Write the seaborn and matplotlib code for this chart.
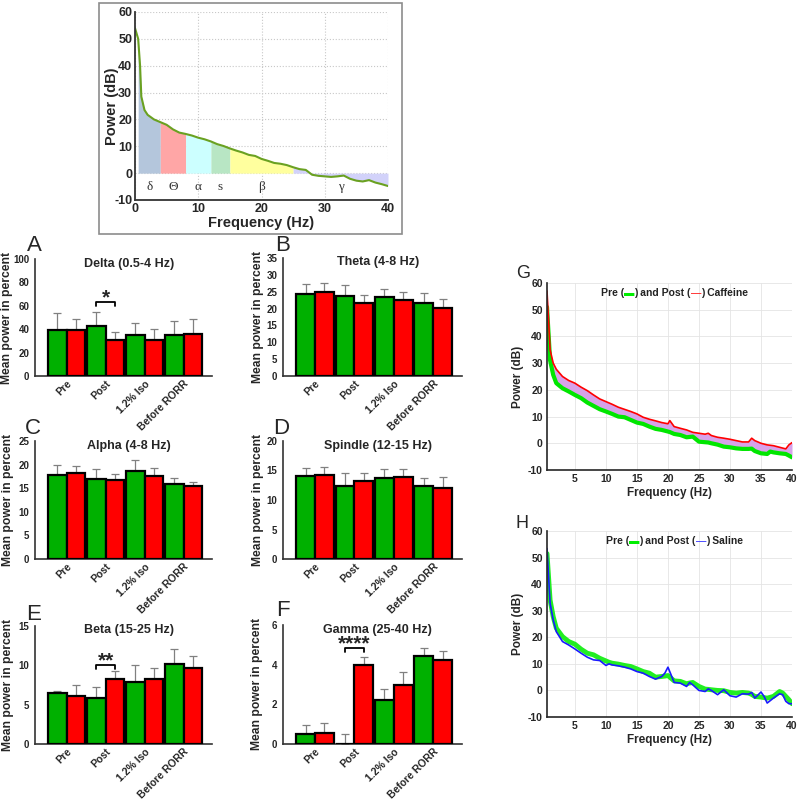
import numpy as np
import pandas as pd
import matplotlib
matplotlib.use("Agg")
import matplotlib.pyplot as plt
import seaborn as sns
from matplotlib.patches import Rectangle
from matplotlib.offsetbox import TextArea, HPacker, AnchoredOffsetbox

sns.set_style("white")
plt.rcParams['font.family'] = ['Liberation Sans', 'DejaVu Sans']
plt.rcParams['axes.unicode_minus'] = False

# ---------------- data ----------------
# example power spectrum with bands (top panel)
psd_freq = [0, 0.5, 0.8, 1, 1.5, 2,
            3, 4, 5, 6, 7, 8, 9, 10, 11, 12,
            13, 14, 15, 16, 17, 18, 19, 20, 21, 22,
            23, 24, 25, 26, 27, 28, 29, 30, 31, 32,
            33, 34, 35, 36, 37, 38, 39, 40]
psd_power = [54, 50, 40, 28.5, 23.5, 21.7,
             20, 19, 18, 16.3, 15.1, 14.6, 14, 13.2, 12.6, 11.8,
             10.8, 10.1, 9.2, 8.4, 7.7, 6.8, 6.4, 5.3, 4.6, 3.8,
             3.5, 3.0, 2.2, 1.5, 1.2, -0.6, -1.0, -1.2, -1.4, -1.2,
             -0.9, -2.1, -2.8, -3.1, -2.6, -3.5, -4.1, -4.8]
band_symbols = ['δ', 'Θ', 'α', 's', 'β', 'γ']
band_lo = [0.5, 4, 8, 12, 15, 25]
band_hi = [4, 8, 12, 15, 25, 40]

# bar panels
conditions = ['Pre', 'Post', '1.2% Iso', 'Before RORR']
groups = ['Saline', 'Caffeine']
band_titles = ['Delta (0.5-4 Hz)', 'Theta (4-8 Hz)', 'Alpha (4-8 Hz)',
               'Spindle (12-15 Hz)', 'Beta (15-25 Hz)', 'Gamma (25-40 Hz)']
green_mean = [[39, 43, 35, 35], [24.2, 23.6, 23.3, 21.6], [17.8, 17.0, 18.6, 15.9],
              [14.0, 12.4, 13.8, 12.4], [6.5, 5.9, 7.85, 10.2], [0.5, 0.0, 2.24, 4.44]]
green_err = [[15, 12, 10, 12], [3.0, 3.4, 2.6, 3.0], [2.1, 2.0, 2.4, 1.2],
             [1.4, 2.15, 1.5, 1.3], [0.3, 1.3, 2.25, 1.9], [0.48, 0.48, 0.55, 0.42]]
red_mean = [[39, 31, 31, 35.5], [24.8, 21.7, 22.4, 20.1], [18.3, 16.8, 17.6, 15.4],
            [14.3, 13.25, 13.9, 12.1], [6.15, 8.3, 8.2, 9.6], [0.56, 4.0, 3.0, 4.25]]
red_err = [[10, 7, 9, 13], [2.8, 2.3, 2.6, 2.7], [1.5, 1.3, 1.7, 0.9],
           [1.3, 1.3, 1.3, 1.8], [1.4, 1.0, 1.5, 1.6], [0.5, 0.38, 0.61, 0.44]]
y_max = [100, 35, 25, 20, 15, 6]
y_step = [20, 5, 5, 5, 5, 2]
sig_label = ['*', None, None, None, '**', '****']
sig_height = [63.5, None, None, None, 10.0, 4.84]

# caffeine spectra (G)
caf_freq = [0.5, 1, 1.5, 2, 3, 4, 5, 6, 7, 8,
            9, 10, 11, 12, 13, 14, 15, 16, 17, 18,
            19, 20, 20.3, 21, 22, 23, 24, 25, 26, 26.5,
            27, 28, 29, 30, 31, 32, 33, 33.5, 34, 35,
            36, 36.5, 37, 38, 39, 39.5, 40]
caf_pre = [51, 31, 25.6, 22.5, 20.6, 19.4, 18.1, 16.9, 15.25, 14,
           12.75, 11.9, 11, 10, 9.75, 8.75, 7.75, 7.25, 6.25, 5.4,
           5, 4.4, 4.2, 3.5, 3.1, 2.25, 2.5, 0.6, 0.4, 0.3,
           0, -0.5, -1.25, -1.5, -1.9, -2.1, -2.1, -2.0, -2.9, -3.75,
           -4, -3.1, -3.4, -3.75, -4, -4.6, -5.25]
caf_post = [57, 35, 30, 27.7, 25, 23.5, 22.5, 21, 19.7, 18.1,
            16.6, 15.6, 14.6, 13.5, 12.7, 11.9, 11, 9.75, 9, 8.4,
            7.75, 7.3, 8.5, 6.25, 5.6, 5, 4.1, 3.75, 3.4, 3.75,
            2.9, 2.25, 1.9, 1.5, 1.0, 0.5, 0.5, 1.9, 1.0, 0,
            -0.6, -0.75, -0.9, -1.5, -2.1, -0.6, 0.25]

# saline spectra (H)
sal_freq = [0.5, 1, 1.5, 2, 3, 4, 5, 6, 7, 8,
            9, 10, 10.5, 11, 12, 13, 14, 15, 16, 17,
            18, 19, 19.5, 20, 20.5, 21, 22, 23, 23.5, 24,
            25, 26, 26.5, 27, 28, 29, 30, 31, 32, 33,
            33.5, 34, 35, 35.5, 36, 37, 38, 38.5, 39, 39.5,
            40]
sal_pre = [51.5, 34, 27.75, 23.4, 20.25, 18.4, 17.4, 15.5, 14, 13.4,
           12.1, 11.1, 10.6, 10.25, 9.9, 9.4, 9, 8.1, 7.1, 6.5,
           5, 5.25, 5.4, 5.6, 4.6, 3.6, 3.4, 2.5, 2.8, 3,
           1.5, 0.5, 0.4, 0.25, 0, -0.1, -0.75, -1, -0.75, -1,
           -1.5, -2.25, -2.5, -2.7, -2.9, -2.25, -0.4, -1.0, -2.25, -3.5,
           -5]
sal_post = [53.4, 32.75, 26.5, 22.1, 18.4, 17.1, 15.6, 14, 12.5, 11.5,
            11.25, 9.4, 10, 9.6, 9.25, 8.75, 8.1, 7.1, 6.5, 5.25,
            4.25, 5.25, 6.5, 8.75, 5.9, 3, 2.75, 1.5, 3, 2.1,
            0, -0.4, 0.6, 0, -1.6, 0.25, -2, -2.5, -1.25, -1.4,
            -0.75, -2.9, -0.6, -2.25, -4.75, -2.9, -1.25, -1.6, -4.1, -5,
            -5]

W, H = 800, 801
fig = plt.figure(figsize=(8, 8.01), dpi=100)


def px_axes(left, top, right, bottom):
    return fig.add_axes([left / W, 1 - bottom / H, (right - left) / W, (bottom - top) / H])


bold = dict(fontweight='bold')

# ---------------- top spectrum panel ----------------
fig.patches.append(Rectangle((99 / W, 1 - 234 / H), 303 / W, 231 / H, transform=fig.transFigure,
                             fill=False, edgecolor='#8c8c8c', lw=1.2))
ax0 = px_axes(135, 12, 388, 200)
f = np.array(psd_freq)
p = np.array(psd_power)
band_colors = ['#b4c6dc', '#ffa6a6', '#ccffff', '#b8e6c4', '#ffff9e', '#d2d2fa']
for lo, hi, col, sym in zip(band_lo, band_hi, band_colors, band_symbols):
    m = (f >= lo) & (f <= hi)
    ax0.fill_between(f[m], 0, p[m], color=col, lw=0)
    ax0.text((lo + hi) / 2, -5, sym, ha='center', va='center', fontsize=9.5,
             family=['Liberation Serif', 'DejaVu Serif'], color='#333333')
sns.lineplot(x=psd_freq, y=psd_power, ax=ax0, color='#6aa121', lw=1.5)
ax0.set_xlim(0, 40)
ax0.set_ylim(-10, 60)
ax0.set_xticks(range(0, 41, 10))
ax0.set_yticks(range(-10, 61, 10))
ax0.grid(True, ls=':', color='#c8c8c8', lw=0.8)
for s in ['top', 'right']:
    ax0.spines[s].set_visible(False)
for s in ['left', 'bottom']:
    ax0.spines[s].set_color('#333333')
    ax0.spines[s].set_linewidth(1.3)
ax0.tick_params(direction='in', length=3, labelsize=9, pad=2)
for t in ax0.get_xticklabels() + ax0.get_yticklabels():
    t.set_fontweight('bold')
ax0.set_xlabel('Frequency (Hz)', fontsize=10.5, labelpad=1, **bold)
ax0.set_ylabel('Power (dB)', fontsize=10.5, **bold)
ax0.yaxis.set_label_coords((112 - 135) / 253, 0.5)
ax0.yaxis.label.set_verticalalignment('center')

# ---------------- bar panels ----------------
bar_boxes = [(35, 259, 212, 376), (283, 258, 462, 376),
             (35, 441, 212, 559), (283, 441, 462, 559),
             (35, 626, 212, 744), (283, 625, 462, 744)]
ylabel_x = [7, 258, 8, 258, 8, 257]
letters = ['A', 'B', 'C', 'D', 'E', 'F']
letter_pos = [(34, 245), (283, 245), (33, 428), (281, 428), (34, 614), (283, 611)]
pal = {'Saline': '#00b000', 'Caffeine': '#ff0000'}

for i, box in enumerate(bar_boxes):
    ax = px_axes(*box)
    df = pd.DataFrame({
        'condition': conditions * 2,
        'group': ['Saline'] * 4 + ['Caffeine'] * 4,
        'power': green_mean[i] + red_mean[i],
    })
    sns.barplot(data=df, x='condition', y='power', hue='group', hue_order=groups,
                palette=pal, errorbar=None, width=0.95, edgecolor='black',
                linewidth=1.6, saturation=1, ax=ax, legend=False, zorder=3)
    for cont, errs, means in zip(ax.containers, [green_err[i], red_err[i]],
                                 [green_mean[i], red_mean[i]]):
        xs = [b.get_x() + b.get_width() / 2 for b in cont]
        ax.errorbar(xs, means, yerr=[np.zeros(len(errs)), errs], fmt='none',
                    ecolor='#808080', elinewidth=0.9, capsize=3, capthick=0.9, zorder=2)
    if sig_label[i]:
        gb = ax.containers[0][1]
        rb = ax.containers[1][1]
        x1 = gb.get_x() + gb.get_width() / 2
        x2 = rb.get_x() + rb.get_width() / 2
        h = sig_height[i]
        dh = y_max[i] * 0.035
        ax.plot([x1, x1, x2, x2], [h - dh, h, h, h - dh], color='black', lw=1.3, zorder=4)
        ax.annotate(sig_label[i], xy=((x1 + x2) / 2, h), xytext=(0, -1),
                    textcoords='offset points', ha='center', va='baseline',
                    fontsize=15, fontweight='bold')
    ax.set_xlim(-0.81, 3.73)
    ax.set_ylim(0, y_max[i])
    ax.set_yticks(np.arange(0, y_max[i] + 0.1, y_step[i]))
    ax.set_xlabel('')
    ax.set_ylabel('Mean power in percent', fontsize=8.7, **bold)
    ax.yaxis.set_label_coords((ylabel_x[i] - box[0]) / (box[2] - box[0]), 0.5)
    ax.yaxis.label.set_verticalalignment('center')
    sns.despine(ax=ax)
    for s in ['left', 'bottom']:
        ax.spines[s].set_linewidth(1.2)
        ax.spines[s].set_color('#333333')
    ax.tick_params(axis='y', direction='out', length=3, width=1, labelsize=7, pad=1)
    ax.tick_params(axis='x', length=0, labelsize=7.5, pad=2)
    ax.set_xticks(range(4))
    ax.set_xticklabels(conditions, rotation=45, ha='right', rotation_mode='anchor')
    for t in ax.get_xticklabels() + ax.get_yticklabels():
        t.set_fontweight('bold')
    ax.text(0.53, 1 - 4.5 / (box[3] - box[1]), band_titles[i], transform=ax.transAxes,
            ha='center', va='center', fontsize=9, **bold)
    fig.text(letter_pos[i][0] / W, 1 - letter_pos[i][1] / H, letters[i], fontsize=16,
             ha='center', va='center')


# ---------------- G / H spectra ----------------
def spectrum_axes(box, letter, lpos, name, post_color):
    ax = px_axes(*box)
    ax.set_xlim(0.5, 40)
    ax.set_ylim(-10, 60)
    ax.set_xticks(range(5, 41, 5))
    ax.set_yticks(range(-10, 61, 10))
    ax.grid(True, color='#e4e4e4', lw=0.6)
    for s in ['top', 'right']:
        ax.spines[s].set_visible(False)
    for s in ['left', 'bottom']:
        ax.spines[s].set_color('#262626')
        ax.spines[s].set_linewidth(1.2)
    ax.tick_params(direction='in', length=3, labelsize=7.5, pad=3)
    for t in ax.get_xticklabels() + ax.get_yticklabels():
        t.set_fontweight('bold')
    ax.set_xlabel('Frequency (Hz)', fontsize=8.5, labelpad=2, **bold)
    ax.set_ylabel('Power (dB)', fontsize=8.5, labelpad=3, **bold)
    tprops = dict(fontsize=7.5, fontweight='bold', color='#222222')
    parts = [TextArea('Pre (', textprops=tprops),
             TextArea('▬', textprops=dict(fontsize=7.5, color='#00ee00')),
             TextArea(') and Post (', textprops=tprops),
             TextArea('—', textprops=dict(fontsize=7.5, color=post_color)),
             TextArea(') ' + name, textprops=tprops)]
    box_ = HPacker(children=parts, align='baseline', pad=0, sep=0)
    ab = AnchoredOffsetbox(loc='center', child=box_, frameon=False,
                           bbox_to_anchor=(0.52, 0.947), bbox_transform=ax.transAxes,
                           borderpad=0, pad=0)
    ax.add_artist(ab)
    fig.text(lpos[0] / W, 1 - lpos[1] / H, letter, fontsize=13, ha='center', va='center')
    return ax


axG = spectrum_axes((547, 283, 792, 470), 'G', (523, 274), 'Caffeine', '#ff0000')
axG.fill_between(caf_freq, caf_pre, caf_post, color='#d7a2ea', lw=0)
sns.lineplot(x=caf_freq, y=caf_pre, ax=axG, color='#00e600', lw=3)
sns.lineplot(x=caf_freq, y=caf_post, ax=axG, color='#ff0000', lw=1.2)

axH = spectrum_axes((547, 531, 792, 717), 'H', (522, 523), 'Saline', '#1a1aff')
sns.lineplot(x=sal_freq, y=sal_pre, ax=axH, color='#22ee22', lw=3.5)
sns.lineplot(x=sal_freq, y=sal_post, ax=axH, color='#1a1aff', lw=1.2)

fig.savefig('out.png', dpi=100)
